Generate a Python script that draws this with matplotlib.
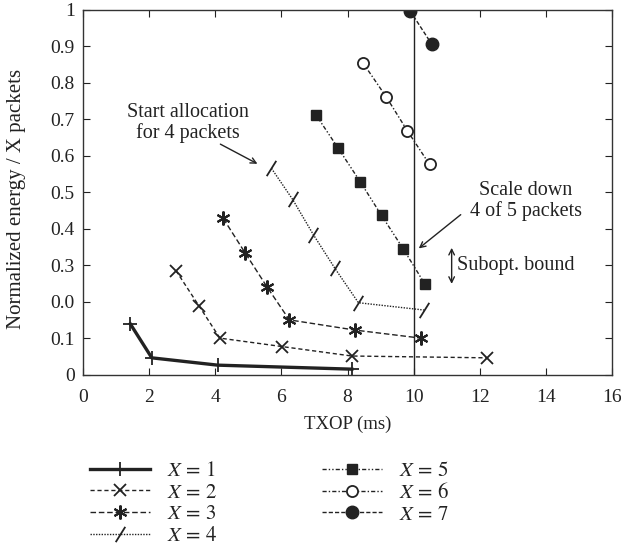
import matplotlib.pyplot as plt
import numpy as np

plt.rcParams['font.family'] = 'Liberation Serif'
plt.rcParams['mathtext.fontset'] = 'stix'

# data (TXOP in ms, normalized energy)
x1 = [1.43, 2.08, 4.07, 8.13]
y1 = [0.140, 0.047, 0.027, 0.016]
x2 = [2.81, 3.51, 4.14, 6.01, 8.13, 12.23]
y2 = [0.286, 0.189, 0.101, 0.078, 0.052, 0.047]
x3 = [4.24, 4.90, 5.56, 6.24, 8.23, 10.22]
y3 = [0.429, 0.335, 0.242, 0.151, 0.123, 0.101]
x4 = [5.70, 6.34, 6.97, 7.62, 8.33, 10.31]
y4 = [0.566, 0.481, 0.384, 0.292, 0.198, 0.178]
x5 = [7.05, 7.72, 8.38, 9.03, 9.69, 10.34]
y5 = [0.712, 0.621, 0.530, 0.437, 0.345, 0.249]
x6 = [8.46, 9.17, 9.81, 10.48]
y6 = [0.856, 0.762, 0.669, 0.577]
x7 = [9.89, 10.55]
y7 = [0.998, 0.906]

yticks = [0, 0.1, 0.2, 0.3, 0.4, 0.5, 0.6, 0.7, 0.8, 0.9, 1.0]
yticklabels = ['0', '0.1', '0.0', '0.3', '0.4', '0.5', '0.6', '0.7', '0.8', '0.9', '1']

c = '#222222'
slash = [(-1, -1.6), (1, 1.6)]

fig = plt.figure(figsize=(6.21, 5.48), dpi=100)
ax = fig.add_axes([0.1337, 0.3157, 0.8518, 0.6661])

ax.plot(x1, y1, color=c, lw=2.4, marker='+', ms=10, mew=1.3, label=r'$X\,=\,1$')
ax.plot(x2, y2, color=c, lw=1.0, ls=(0, (3, 2)), marker='x', ms=8, mew=1.3, label=r'$X\,=\,2$')
ax.plot(x3, y3, color=c, lw=1.0, ls=(0, (4, 2)), marker=(6, 2, 0), ms=10, mew=1.5, label=r'$X\,=\,3$')
ax.plot(x4, y4, color=c, lw=1.0, ls=(0, (1, 1)), marker=slash, ms=11, mew=1.3, label=r'$X\,=\,4$')
ax.plot(x5, y5, color=c, lw=1.0, ls=(0, (3, 1.5, 1, 1.5, 1, 1.5)), marker='s', ms=6.5, label=r'$X\,=\,5$')
ax.plot(x6, y6, color=c, lw=1.0, ls=(0, (3, 1.5, 1, 1.5)), marker='o', ms=8, mfc='white', mew=1.3, label=r'$X\,=\,6$')
ax.plot(x7, y7, color=c, lw=1.0, ls=(0, (3, 1.5)), marker='o', ms=9, label=r'$X\,=\,7$')

ax.axvline(10, color=c, lw=1.0)

ax.set_xlim(0, 16)
ax.set_ylim(0, 1)
ax.set_xticks(np.arange(0, 17, 2))
ax.set_yticks(yticks)
ax.set_yticklabels(yticklabels)
ax.tick_params(direction='in', top=True, right=True, length=5, labelsize=14, colors=c, pad=6)
ax.tick_params(axis='x', pad=10)
for s in ax.spines.values():
    s.set_color('#333333')
    s.set_linewidth(1.0)

ax.set_xlabel('TXOP (ms)', fontsize=13.5, color=c, labelpad=7)
ax.set_ylabel('Normalized energy / X packets', fontsize=15, color=c)
ax.yaxis.set_label_coords(-0.108, 0.482)

ax.text(3.18, 0.69, 'Start allocation\nfor 4 packets', ha='center', va='center',
        fontsize=14.5, color=c, linespacing=1.1)
ax.annotate('', xy=(5.35, 0.575), xytext=(4.08, 0.636),
            arrowprops=dict(arrowstyle='->', color=c, lw=1.0))
ax.text(13.4, 0.477, 'Scale down\n4 of 5 packets', ha='center', va='center',
        fontsize=14.5, color=c, linespacing=1.1)
ax.annotate('', xy=(10.09, 0.342), xytext=(11.49, 0.444),
            arrowprops=dict(arrowstyle='->', color=c, lw=1.0))
ax.annotate('', xy=(11.15, 0.242), xytext=(11.15, 0.356),
            arrowprops=dict(arrowstyle='<->', color=c, lw=1.0))
ax.text(11.3, 0.299, 'Subopt. bound', ha='left', va='center', fontsize=14.5, color=c)

fig.legend(loc='upper left', bbox_to_anchor=(0.145, 0.158), ncol=2, frameon=False,
           fontsize=15, handlelength=2.9, handletextpad=0.8, columnspacing=5.0,
           labelspacing=0.1, borderpad=0, borderaxespad=0, labelcolor=c)

plt.savefig('out.png', dpi=100)
